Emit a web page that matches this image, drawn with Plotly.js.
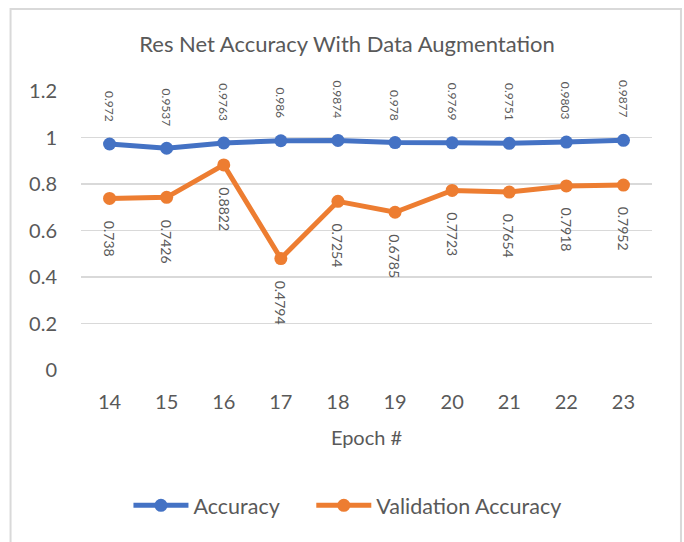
<!DOCTYPE html>
<html>
<head>
<meta charset="utf-8">
<script src="https://cdn.plot.ly/plotly-3.0.1.min.js"></script>
<style>
  html, body { margin: 0; padding: 0; background: #fff; }
  #chart { width: 684px; height: 542px; }
</style>
</head>
<body>
<div id="chart"></div>
<script>
const epochs = ['14', '15', '16', '17', '18', '19', '20', '21', '22', '23'];
const accuracy = [0.972, 0.9537, 0.9763, 0.986, 0.9874, 0.978, 0.9769, 0.9751, 0.9803, 0.9877];
const valAccuracy = [0.738, 0.7426, 0.8822, 0.4794, 0.7254, 0.6785, 0.7723, 0.7654, 0.7918, 0.7952];
const seriesNames = ['Accuracy', 'Validation Accuracy'];
const titleText = 'Res Net Accuracy With Data Augmentation';
const xTitle = 'Epoch #';

const FONT = 'Lato, "Open Sans", sans-serif';
const GREY = '#595959';
const BLUE = '#4472C4';
const ORANGE = '#ED7D31';

const traces = [
  {
    x: epochs, y: accuracy, name: seriesNames[0], type: 'scatter', mode: 'lines+markers',
    line: { color: BLUE, width: 5 }, marker: { color: BLUE, size: 13 }, legend: 'legend'
  },
  {
    x: epochs, y: valAccuracy, name: seriesNames[1], type: 'scatter', mode: 'lines+markers',
    line: { color: ORANGE, width: 5 }, marker: { color: ORANGE, size: 13 }, legend: 'legend2'
  }
];

const annotations = [];
epochs.forEach((e, i) => {
  annotations.push({
    x: i, y: accuracy[i], xref: 'x', yref: 'y', text: String(accuracy[i]),
    showarrow: false, textangle: 90, yanchor: 'bottom', xanchor: 'center', yshift: 20,
    font: { family: FONT, size: 12, color: GREY }
  });
  annotations.push({
    x: i, y: valAccuracy[i], xref: 'x', yref: 'y', text: String(valAccuracy[i]),
    showarrow: false, textangle: 90, yanchor: 'top', xanchor: 'center', yshift: -20,
    font: { family: FONT, size: 14, color: GREY }
  });
});

const legendBase = {
  orientation: 'h', xanchor: 'left', y: -0.485, yanchor: 'middle',
  font: { family: FONT, size: 21.5, color: GREY }, itemwidth: 55,
  itemclick: false, itemdoubleclick: false, bgcolor: 'rgba(0,0,0,0)'
};

const layout = {
  width: 684, height: 542,
  margin: { l: 80.5, r: 32, t: 90.7, b: 171.5, pad: 0 },
  paper_bgcolor: '#ffffff', plot_bgcolor: '#ffffff',
  font: { family: FONT, color: GREY },
  title: {
    text: titleText, font: { family: FONT, size: 22, color: GREY },
    x: 347 / 684, xanchor: 'center', y: 1 - 44 / 542, yanchor: 'middle', xref: 'container', yref: 'container'
  },
  xaxis: {
    type: 'category', range: [-0.5, epochs.length - 0.5], autorange: false,
    showgrid: false, zeroline: false, showline: false,
    ticks: '', ticklabelstandoff: 18, tickfont: { family: FONT, size: 20, color: GREY },
    title: { text: xTitle, font: { family: FONT, size: 20, color: GREY }, standoff: 18 },
    fixedrange: true
  },
  yaxis: {
    range: [0, 1.2], autorange: false, dtick: 0.2, tick0: 0, showgrid: true, gridcolor: '#d9d9d9', gridwidth: 1.5,
    zeroline: false, showline: false, ticks: '', ticklabelstandoff: 23,
    tickfont: { family: FONT, size: 20, color: GREY }, fixedrange: true
  },
  showlegend: true,
  legend: Object.assign({}, legendBase, { x: (128 - 80.5) / 571.5 }),
  legend2: Object.assign({}, legendBase, { x: (311 - 80.5) / 571.5 }),
  annotations: annotations,
  shapes: [
    {
      type: 'rect', xref: 'paper', yref: 'paper',
      x0: (10 - 80.5) / 571.5, x1: (681 - 80.5) / 571.5,
      y0: -0.8, y1: (370.5 - 8.5) / 279.8,
      line: { color: '#d9d9d9', width: 2 }, fillcolor: 'rgba(0,0,0,0)', layer: 'below'
    }
  ]
};

Plotly.newPlot('chart', traces, layout, { staticPlot: true, displayModeBar: false });
</script>
</body>
</html>
